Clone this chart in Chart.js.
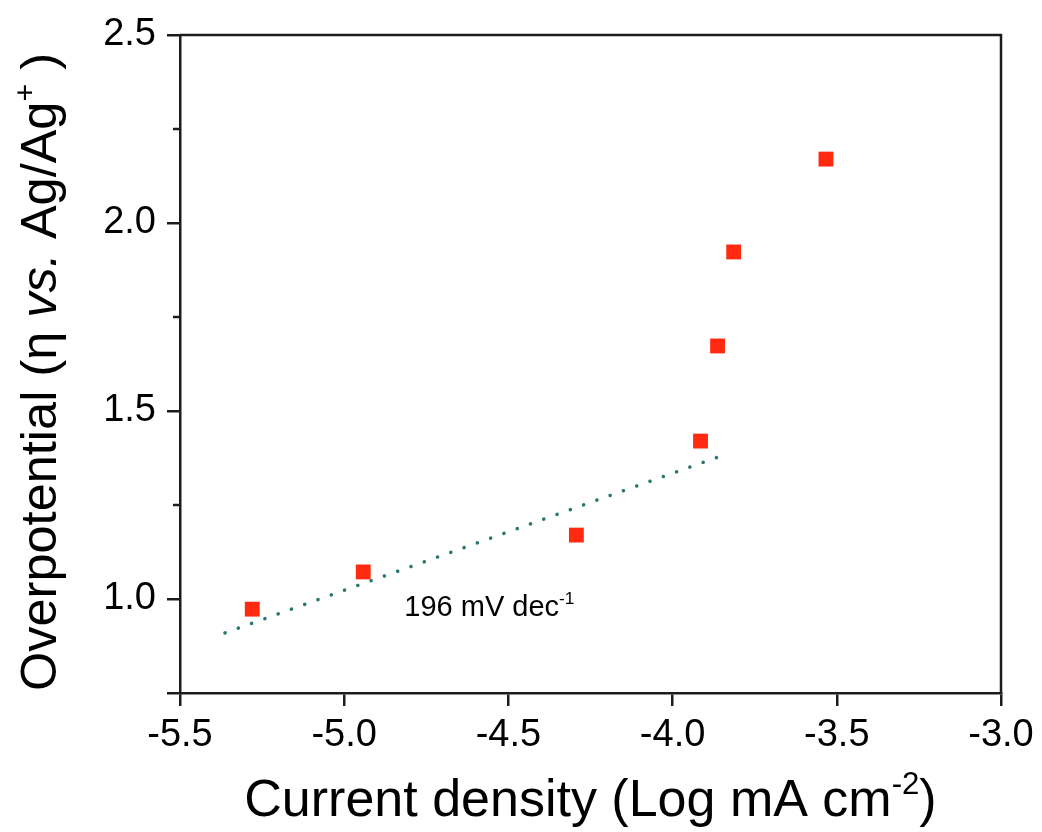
<!DOCTYPE html>
<html>
<head>
<meta charset="utf-8">
<script src="https://cdn.jsdelivr.net/npm/chart.js@4/dist/chart.umd.min.js"></script>
<style>
  html, body { margin: 0; padding: 0; background: #fff; }
  canvas { display: block; }
</style>
</head>
<body>
<canvas id="c" width="1042" height="832"></canvas>
<script>
// ---- data ----
const logCurrent   = [-5.28, -4.942, -4.293, -3.915, -3.863, -3.814, -3.533];
const overpotential = [0.973, 1.072, 1.170, 1.420, 1.673, 1.923, 2.170];
const fitX = [-5.363, -3.835];
const fitY = [0.910, 1.386];
const xTicks = [-5.5, -5.0, -4.5, -4.0, -3.5, -3.0];
const yTicks = [0.75, 1.0, 1.5, 2.0, 2.5];
const yMinorTicks = [1.25, 1.75, 2.25];
const slopeLabel = ['196 mV dec', '-1'];
const slopeAnchor = [-4.817, 0.955];

const FONT = '"Liberation Sans", Arial, Helvetica, sans-serif';
const AXIS = '#1c1c1c';

function richWidth(ctx, parts, size) {
  let w = 0;
  for (const p of parts) {
    const s = p.sup ? size * 0.6 : size;
    ctx.font = (p.italic ? 'italic ' : '') + s + 'px ' + FONT;
    w += ctx.measureText(p.t).width;
  }
  return w;
}
function drawRich(ctx, parts, x, y, size, align) {
  let w = richWidth(ctx, parts, size);
  let cx = align === 'center' ? x - w / 2 : x;
  ctx.textBaseline = 'alphabetic';
  ctx.textAlign = 'left';
  for (const p of parts) {
    const s = p.sup ? size * 0.6 : size;
    ctx.font = (p.italic ? 'italic ' : '') + s + 'px ' + FONT;
    const yy = p.sup ? y - size * 0.42 : y;
    ctx.fillText(p.t, cx, yy);
    cx += ctx.measureText(p.t).width;
  }
}

const decor = {
  id: 'decor',
  afterDraw(chart) {
    const ctx = chart.ctx;
    const a = chart.chartArea;
    const xs = chart.scales.x, ys = chart.scales.y;
    ctx.save();
    // box
    ctx.strokeStyle = AXIS;
    ctx.lineWidth = 2.5;
    ctx.beginPath();
    ctx.moveTo(a.left, a.top); ctx.lineTo(a.right, a.top); ctx.lineTo(a.right, a.bottom);
    ctx.stroke();
    // minor y ticks
    for (const v of yMinorTicks) {
      const py = ys.getPixelForValue(v);
      ctx.beginPath();
      ctx.moveTo(a.left - 7, py); ctx.lineTo(a.left, py);
      ctx.stroke();
    }
    ctx.fillStyle = '#000';
    // x title
    drawRich(ctx, [
      { t: 'Current density (Log mA cm' },
      { t: '-2', sup: true },
      { t: ')' }
    ], (a.left + a.right) / 2, 816, 52, 'center');
    // y title
    ctx.save();
    ctx.translate(56, (a.top + a.bottom) / 2 + 8);
    ctx.rotate(-Math.PI / 2);
    drawRich(ctx, [
      { t: 'Overpotential (' },
      { t: 'η ' },
      { t: 'vs.', italic: true },
      { t: ' Ag/Ag' },
      { t: '+', sup: true },
      { t: ' )' }
    ], 0, 0, 50.5, 'center');
    ctx.restore();
    // slope annotation
    drawRich(ctx, [
      { t: slopeLabel[0] },
      { t: slopeLabel[1], sup: true }
    ], xs.getPixelForValue(slopeAnchor[0]), ys.getPixelForValue(slopeAnchor[1]), 29, 'left');
    ctx.restore();
  }
};

new Chart(document.getElementById('c'), {
  type: 'scatter',
  data: {
    datasets: [
      {
        type: 'line',
        data: fitX.map((x, i) => ({ x, y: fitY[i] })),
        borderColor: '#2a7770',
        borderWidth: 3.5,
        borderDash: [0.1, 14],
        borderCapStyle: 'round',
        pointRadius: 0,
        fill: false,
        order: 2
      },
      {
        data: logCurrent.map((x, i) => ({ x, y: overpotential[i] })),
        pointStyle: 'rect',
        pointRadius: 10.5,
        pointHoverRadius: 10.5,
        backgroundColor: '#ff2a10',
        borderWidth: 0,
        order: 1
      }
    ]
  },
  options: {
    responsive: false,
    animation: false,
    layout: { padding: { left: 0, right: 41, top: 35, bottom: 0 } },
    plugins: { legend: { display: false }, tooltip: { enabled: false } },
    scales: {
      x: {
        type: 'linear',
        min: -5.5, max: -3.0,
        afterBuildTicks(s) { s.ticks = xTicks.map(v => ({ value: v })); },
        afterFit(s) { s.height = 139; },
        ticks: {
          callback: v => v.toFixed(1),
          font: { family: FONT, size: 38 },
          color: '#000',
          padding: 7,
          maxRotation: 0,
          autoSkip: false
        },
        grid: { drawOnChartArea: false, drawTicks: true, tickLength: 13, color: AXIS, lineWidth: 2.5 },
        border: { display: true, color: AXIS, width: 2.5 }
      },
      y: {
        type: 'linear',
        min: 0.75, max: 2.5,
        afterBuildTicks(s) { s.ticks = yTicks.map(v => ({ value: v })); },
        afterFit(s) { s.width = 180; },
        ticks: {
          callback: v => (v === 0.75 ? '' : v.toFixed(1)),
          font: { family: FONT, size: 38 },
          color: '#000',
          padding: 11,
          autoSkip: false
        },
        grid: { drawOnChartArea: false, drawTicks: true, tickLength: 13, color: AXIS, lineWidth: 2.5 },
        border: { display: true, color: AXIS, width: 2.5 }
      }
    }
  },
  plugins: [decor]
});
</script>
</body>
</html>
